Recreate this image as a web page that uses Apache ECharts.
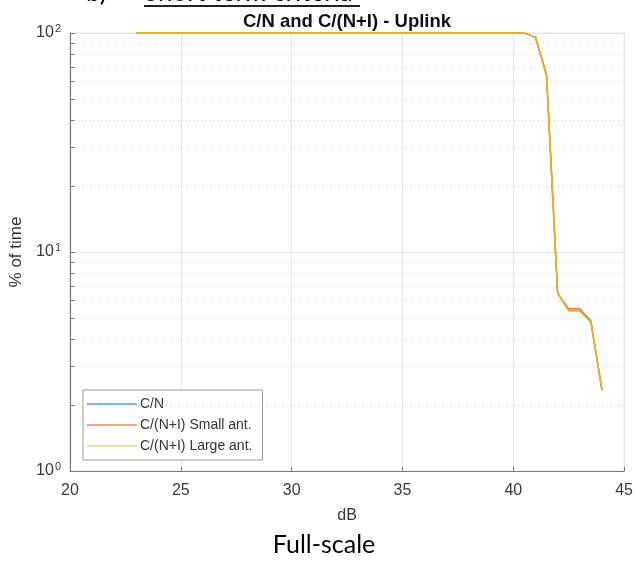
<!DOCTYPE html>
<html>
<head>
<meta charset="utf-8">
<script src="https://cdn.jsdelivr.net/npm/echarts@6/dist/echarts.min.js"></script>
<style>
  html, body { margin: 0; padding: 0; background: #fff; }
  #chart { width: 636px; height: 562px; }
</style>
</head>
<body>
<div id="chart"></div>
<script>
// Margin (dB) and percentage of time, shared sampling for all three curves
const marginDb = [23, 40.5, 41, 41.5, 42, 42.5, 43, 43.5, 44];
const cnPercent = [100, 100, 95.6, 64.3, 6.5, 5.4, 5.4, 4.8, 2.35];
const cniSmallPercent = [100, 100, 95.6, 64.3, 6.5, 5.5, 5.5, 4.86, 2.35];
const cniLargePercent = [100, 100, 95.6, 64.3, 6.5, 5.4, 5.4, 4.8, 2.35];

const seriesNames = ['C/N', 'C/(N+I) Small ant.', 'C/(N+I) Large ant.'];
const seriesColors = ['#0072BD', '#D95319', '#EDB120'];

const xTicks = [20, 25, 30, 35, 40, 45];
const minorGridValues = [2, 3, 4, 5, 6, 7, 8, 9, 20, 30, 40, 50, 60, 70, 80, 90];

const pairs = (xs, ys) => xs.map((x, i) => [x, ys[i]]);

const minorGridLines = minorGridValues.map(v => ({ yAxis: v }));
const minorTickMarks = [1, 10, 100].concat(minorGridValues).map(v => [
  { coord: [xTicks[0], v] },
  { coord: [xTicks[0] + 0.2, v] }
]);

const chart = echarts.init(document.getElementById('chart'), null, { renderer: 'canvas' });

chart.setOption({
  animation: false,
  backgroundColor: '#ffffff',
  title: {
    text: 'C/N and C/(N+I) - Uplink',
    left: 342,
    textAlign: 'center',
    top: 7,
    textStyle: { fontFamily: 'Liberation Sans', fontSize: 18.5, fontWeight: 'bold', color: '#111' }
  },
  grid: {
    left: 70, right: 11, top: 33, bottom: 91,
    show: true, borderColor: '#e3e3e3', borderWidth: 1, backgroundColor: '#fff'
  },
  legend: {
    orient: 'vertical',
    left: 83, top: 390,
    itemWidth: 50, itemHeight: 1.2, itemGap: 7,
    icon: 'rect',
    padding: [7, 10, 7, 4],
    borderColor: '#9a9a9a', borderWidth: 1,
    backgroundColor: '#fff',
    textStyle: { fontFamily: 'Liberation Sans', fontSize: 14, color: '#333', padding: [0, 0, 0, -2] },
    data: seriesNames
  },
  xAxis: {
    type: 'value',
    min: 20, max: 45, interval: 5,
    name: 'dB', nameLocation: 'middle', nameGap: 37,
    nameTextStyle: { fontFamily: 'Liberation Sans', fontSize: 16, color: '#333' },
    axisLine: { show: true, lineStyle: { color: '#7a7a7a', width: 1.2 } },
    axisTick: { show: true, inside: true, length: 4, lineStyle: { color: '#7a7a7a' } },
    axisLabel: { fontFamily: 'Liberation Sans', fontSize: 16, color: '#3a3a3a', margin: 12 },
    splitLine: { show: true, lineStyle: { color: '#e6e6e6', width: 1 } }
  },
  yAxis: {
    type: 'log',
    logBase: 10,
    min: 1, max: 100,
    name: '% of time', nameLocation: 'middle', nameGap: 44,
    nameTextStyle: { fontFamily: 'Liberation Sans', fontSize: 17, color: '#333' },
    axisLine: { show: true, lineStyle: { color: '#7a7a7a', width: 1.2 } },
    axisTick: { show: true, inside: true, length: 5, lineStyle: { color: '#7a7a7a' } },
    axisLabel: {
      margin: 9,
      formatter: v => '10{s|' + Math.round(Math.log10(v)) + '}',
      rich: {
        s: { fontFamily: 'Liberation Sans', fontSize: 11, color: '#3a3a3a', verticalAlign: 'top', padding: [0, 0, 8, 1] }
      },
      fontFamily: 'Liberation Sans', fontSize: 16, color: '#3a3a3a'
    },
    splitLine: { show: true, lineStyle: { color: '#e3e3e3', width: 1 } }
  },
  series: [
    {
      name: seriesNames[0],
      type: 'line',
      data: pairs(marginDb, cnPercent),
      symbol: 'none',
      color: seriesColors[0],
      lineStyle: { width: 1.2 },
      z: 2,
      markLine: {
        silent: true,
        symbol: 'none',
        label: { show: false },
        lineStyle: { color: '#cfcfcf', type: [1, 3], width: 1 },
        data: minorGridLines
      }
    },
    {
      name: seriesNames[1],
      type: 'line',
      data: pairs(marginDb, cniSmallPercent),
      symbol: 'none',
      color: seriesColors[1],
      lineStyle: { width: 1.2 },
      z: 3,
      markLine: {
        silent: true,
        symbol: 'none',
        label: { show: false },
        lineStyle: { color: '#7a7a7a', type: 'solid', width: 1 },
        data: minorTickMarks
      }
    },
    {
      name: seriesNames[2],
      type: 'line',
      data: pairs(marginDb, cniLargePercent),
      symbol: 'none',
      color: seriesColors[2],
      lineStyle: { width: 1.8 },
      z: 4
    }
  ],
  graphic: [
    {
      type: 'text', left: 86, top: -20,
      style: { text: 'b)', font: '26px Lato', fill: '#000' }
    },
    {
      type: 'text', left: 144, top: -20,
      style: { text: 'Short term criteria', font: '26px Lato', fill: '#000' }
    },
    {
      type: 'rect',
      shape: { x: 144, y: 5, width: 216, height: 2 },
      style: { fill: '#222' }
    },
    {
      type: 'text', x: 324, y: 532,
      style: { text: 'Full-scale', font: '25px Lato', fill: '#000', align: 'center' }
    }
  ]
});
</script>
</body>
</html>
